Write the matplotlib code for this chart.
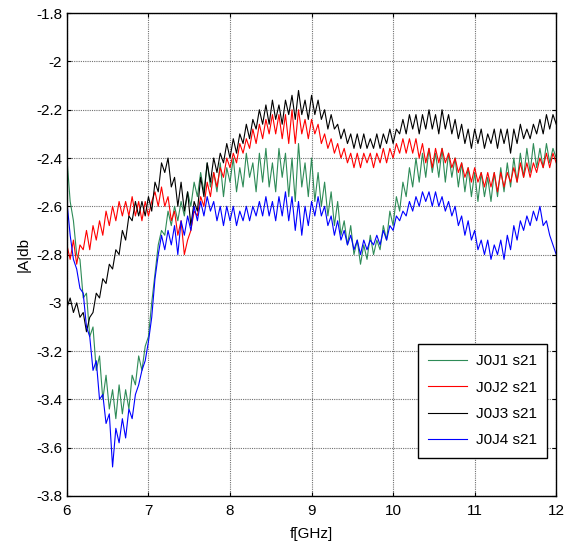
import numpy as np
import matplotlib

matplotlib.use("Agg")
import matplotlib.pyplot as plt
from matplotlib.ticker import FuncFormatter

plt.rcParams["font.family"] = ["Liberation Sans", "DejaVu Sans"]
plt.rcParams["axes.unicode_minus"] = False

# frequency samples, 6..12 GHz every 0.04 GHz
freq = np.linspace(6.0, 12.0, 151)

j0j1 = [
    -2.40, -2.58, -2.66, -2.80, -2.82, -2.98, -2.96, -3.14, -3.10, -3.28,
    -3.22, -3.40, -3.30, -3.44, -3.36, -3.48, -3.34, -3.46, -3.36, -3.44,
    -3.30, -3.34, -3.22, -3.28, -3.18, -3.14, -3.00, -2.88, -2.76, -2.70,
    -2.72, -2.62, -2.68, -2.60, -2.66, -2.58, -2.64, -2.54, -2.60, -2.50,
    -2.56, -2.46, -2.54, -2.42, -2.52, -2.46, -2.54, -2.42, -2.56, -2.44,
    -2.50, -2.40, -2.54, -2.44, -2.52, -2.38, -2.48, -2.42, -2.54, -2.38,
    -2.50, -2.36, -2.52, -2.42, -2.54, -2.36, -2.48, -2.38, -2.56, -2.40,
    -2.58, -2.34, -2.52, -2.42, -2.56, -2.40, -2.58, -2.46, -2.60, -2.50,
    -2.64, -2.54, -2.68, -2.58, -2.72, -2.66, -2.76, -2.68, -2.80, -2.74,
    -2.84, -2.76, -2.82, -2.72, -2.80, -2.74, -2.78, -2.68, -2.74, -2.62,
    -2.68, -2.56, -2.62, -2.50, -2.56, -2.44, -2.52, -2.40, -2.50, -2.38,
    -2.48, -2.36, -2.46, -2.38, -2.48, -2.36, -2.50, -2.38, -2.48, -2.40,
    -2.52, -2.42, -2.54, -2.44, -2.56, -2.46, -2.58, -2.46, -2.56, -2.48,
    -2.58, -2.46, -2.56, -2.44, -2.54, -2.42, -2.52, -2.40, -2.50, -2.38,
    -2.48, -2.36, -2.46, -2.34, -2.44, -2.36, -2.44, -2.34, -2.42, -2.36,
    -2.40,
]

j0j2 = [
    -2.76, -2.82, -2.74, -2.84, -2.76, -2.78, -2.70, -2.78, -2.68, -2.74,
    -2.66, -2.72, -2.62, -2.68, -2.60, -2.66, -2.58, -2.64, -2.58, -2.64,
    -2.56, -2.64, -2.58, -2.66, -2.58, -2.64, -2.58, -2.54, -2.60, -2.52,
    -2.60, -2.56, -2.66, -2.62, -2.72, -2.66, -2.80, -2.74, -2.70, -2.62,
    -2.64, -2.56, -2.60, -2.50, -2.56, -2.46, -2.52, -2.44, -2.48, -2.40,
    -2.44, -2.38, -2.42, -2.34, -2.38, -2.32, -2.36, -2.28, -2.34, -2.26,
    -2.32, -2.24, -2.30, -2.22, -2.30, -2.22, -2.32, -2.22, -2.34, -2.20,
    -2.34, -2.20, -2.30, -2.24, -2.32, -2.24, -2.30, -2.26, -2.34, -2.30,
    -2.36, -2.32, -2.38, -2.34, -2.40, -2.36, -2.42, -2.38, -2.44, -2.38,
    -2.44, -2.38, -2.42, -2.38, -2.44, -2.38, -2.42, -2.36, -2.42, -2.36,
    -2.40, -2.34, -2.38, -2.32, -2.38, -2.32, -2.38, -2.32, -2.40, -2.34,
    -2.42, -2.36, -2.44, -2.36, -2.42, -2.36, -2.42, -2.38, -2.44, -2.40,
    -2.46, -2.42, -2.48, -2.44, -2.50, -2.44, -2.50, -2.46, -2.52, -2.46,
    -2.52, -2.46, -2.54, -2.46, -2.52, -2.46, -2.50, -2.44, -2.50, -2.42,
    -2.48, -2.42, -2.48, -2.42, -2.46, -2.40, -2.44, -2.38, -2.44, -2.38,
    -2.42,
]

j0j3 = [
    -3.02, -2.98, -3.04, -3.00, -3.06, -3.04, -3.12, -3.06, -3.04, -2.96,
    -2.98, -2.90, -2.92, -2.84, -2.86, -2.78, -2.80, -2.70, -2.74, -2.64,
    -2.66, -2.58, -2.64, -2.58, -2.64, -2.56, -2.62, -2.50, -2.54, -2.42,
    -2.46, -2.40, -2.52, -2.48, -2.60, -2.50, -2.62, -2.54, -2.68, -2.58,
    -2.62, -2.48, -2.56, -2.42, -2.50, -2.40, -2.46, -2.38, -2.42, -2.34,
    -2.40, -2.32, -2.38, -2.30, -2.34, -2.26, -2.32, -2.24, -2.28, -2.20,
    -2.26, -2.18, -2.26, -2.16, -2.24, -2.18, -2.26, -2.16, -2.22, -2.14,
    -2.24, -2.12, -2.22, -2.16, -2.24, -2.14, -2.22, -2.16, -2.24, -2.20,
    -2.28, -2.22, -2.28, -2.26, -2.32, -2.28, -2.34, -2.30, -2.36, -2.30,
    -2.36, -2.30, -2.36, -2.32, -2.36, -2.30, -2.36, -2.30, -2.34, -2.28,
    -2.34, -2.28, -2.30, -2.24, -2.30, -2.22, -2.28, -2.22, -2.30, -2.22,
    -2.28, -2.20, -2.28, -2.22, -2.30, -2.20, -2.28, -2.22, -2.30, -2.24,
    -2.32, -2.26, -2.34, -2.28, -2.36, -2.28, -2.34, -2.28, -2.36, -2.30,
    -2.34, -2.28, -2.36, -2.28, -2.34, -2.28, -2.38, -2.28, -2.34, -2.26,
    -2.32, -2.28, -2.32, -2.26, -2.30, -2.24, -2.30, -2.22, -2.28, -2.22,
    -2.26,
]

j0j4 = [
    -2.58, -2.72, -2.82, -2.86, -2.94, -2.96, -3.10, -3.14, -3.28, -3.24,
    -3.40, -3.38, -3.50, -3.46, -3.68, -3.52, -3.58, -3.48, -3.56, -3.44,
    -3.48, -3.38, -3.34, -3.28, -3.24, -3.16, -3.06, -2.90, -2.80, -2.72,
    -2.78, -2.70, -2.76, -2.68, -2.80, -2.66, -2.72, -2.64, -2.70, -2.60,
    -2.66, -2.58, -2.64, -2.56, -2.62, -2.58, -2.66, -2.60, -2.68, -2.60,
    -2.66, -2.60, -2.68, -2.62, -2.66, -2.60, -2.66, -2.60, -2.64, -2.58,
    -2.64, -2.56, -2.64, -2.58, -2.66, -2.56, -2.64, -2.54, -2.66, -2.56,
    -2.70, -2.58, -2.72, -2.60, -2.68, -2.58, -2.64, -2.56, -2.64, -2.60,
    -2.68, -2.64, -2.72, -2.66, -2.74, -2.70, -2.76, -2.72, -2.78, -2.74,
    -2.80, -2.74, -2.78, -2.74, -2.76, -2.72, -2.76, -2.70, -2.74, -2.68,
    -2.70, -2.64, -2.66, -2.62, -2.64, -2.58, -2.62, -2.56, -2.60, -2.54,
    -2.58, -2.54, -2.60, -2.54, -2.60, -2.56, -2.62, -2.58, -2.64, -2.60,
    -2.68, -2.64, -2.72, -2.66, -2.74, -2.70, -2.78, -2.74, -2.80, -2.74,
    -2.82, -2.76, -2.80, -2.74, -2.82, -2.72, -2.78, -2.68, -2.74, -2.66,
    -2.70, -2.64, -2.68, -2.62, -2.66, -2.60, -2.68, -2.66, -2.72, -2.76,
    -2.80,
]

labels = ["J0J1 s21", "J0J2 s21", "J0J3 s21", "J0J4 s21"]
colors = ["#2e8b57", "#ff0000", "#000000", "#0000ff"]
series = [j0j1, j0j2, j0j3, j0j4]

fig = plt.figure(figsize=(5.67, 5.51), dpi=100)
ax = fig.add_axes([0.118, 0.100, 0.863, 0.876])

for values, color, label in zip(series, colors, labels):
    ax.plot(freq, values, color=color, lw=0.8, label=label)

ax.set_xlim(6, 12)
ax.set_ylim(-3.8, -1.8)
ax.set_xticks(np.arange(6, 13, 1))
ax.set_yticks(np.arange(-3.8, -1.79, 0.2))
ax.yaxis.set_major_formatter(FuncFormatter(lambda v, _: f"{v:g}"))
ax.tick_params(direction="in", top=True, right=True, labelsize=11, length=3)
ax.tick_params(axis="x", pad=6)
ax.grid(True, color="#707070", linestyle=(0, (1, 1)), linewidth=0.8)
for spine in ax.spines.values():
    spine.set_linewidth(1.0)

ax.set_xlabel("f[GHz]", fontsize=11, labelpad=6)
ax.set_ylabel("|A|db", fontsize=11, labelpad=4)

leg = ax.legend(loc="lower right", bbox_to_anchor=(0.982, 0.079), borderaxespad=0,
                fontsize=11, fancybox=False, edgecolor="black", framealpha=1.0,
                handlelength=2.5, handletextpad=0.6, borderpad=0.7, labelspacing=0.8)
leg.get_frame().set_linewidth(1.0)

fig.savefig("out.png", dpi=100)
